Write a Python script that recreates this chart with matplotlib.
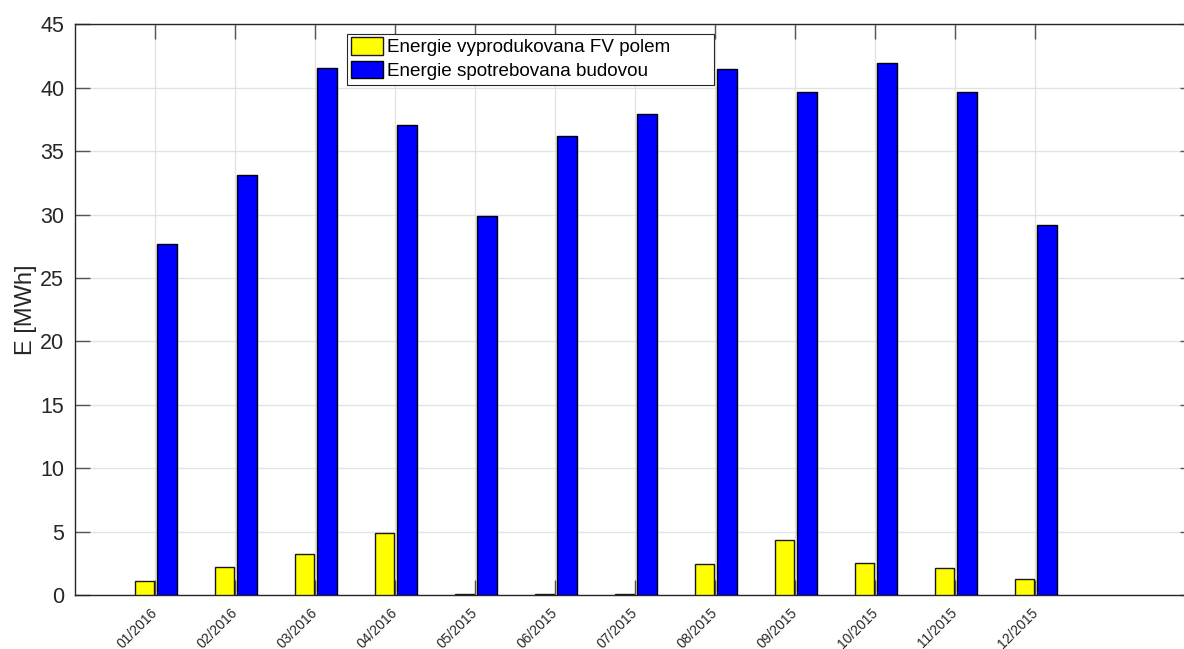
import matplotlib
matplotlib.use("Agg")
import matplotlib.pyplot as plt
from matplotlib.patches import Rectangle
from matplotlib.transforms import ScaledTranslation
import numpy as np

months = ["01/2016", "02/2016", "03/2016", "04/2016", "05/2015", "06/2015",
          "07/2015", "08/2015", "09/2015", "10/2015", "11/2015", "12/2015"]
produced = [1.1, 2.18, 3.2, 4.86, 0.05, 0.05, 0.05, 2.42, 4.36, 2.52, 2.1, 1.28]
consumed = [27.65, 33.15, 41.55, 37.03, 29.9, 36.2, 37.95, 41.45, 39.65, 41.95, 39.65, 29.15]

label_produced = "Energie vyprodukovana FV polem"
label_consumed = "Energie spotrebovana budovou"

plt.rcParams["font.family"] = ["Liberation Sans", "DejaVu Sans"]
axis_color = "#262626"

W, H = 1184, 649
fig = plt.figure(figsize=(W / 100, H / 100), dpi=100)
left, top, bottom = 75.3, 24.3, 595.0
x_max = 14.0
px_per_unit = 80.0
ax = fig.add_axes([left / W, 1 - bottom / H, x_max * px_per_unit / W, (bottom - top) / H])

x = np.arange(1, len(months) + 1)
width = 0.24
ax.bar(x - 0.14, produced, width, color="#ffff00", edgecolor="#1a1a1a", linewidth=1.0,
       label=label_produced, zorder=3)
ax.bar(x + 0.145, consumed, width, color="#0000ff", edgecolor="black", linewidth=1.0,
       label=label_consumed, zorder=3)

ax.set_xlim(0, x_max)
ax.set_ylim(0, 45)
ax.set_yticks(np.arange(0, 46, 5))
ax.set_xticks(x)
ax.set_xticklabels(months, rotation=45, ha="right", va="center", rotation_mode="anchor",
                   fontsize=10, color=axis_color)
shift = ScaledTranslation(-9 / 100, 0, fig.dpi_scale_trans)
for lbl in ax.get_xticklabels():
    lbl.set_transform(lbl.get_transform() + shift)

ax.grid(True, color="#e3e3e3", linewidth=1.0, zorder=0)
ax.set_axisbelow(True)
ax.tick_params(axis="both", direction="in", length=11, width=1.0, color="#555555",
               top=True, right=True)
ax.tick_params(axis="y", labelsize=15.5, labelcolor=axis_color, pad=8)
ax.tick_params(axis="x", pad=11)
for side in ("top", "bottom", "left", "right"):
    ax.spines[side].set_color(axis_color)
    ax.spines[side].set_linewidth(1.0)

ax.set_ylabel("E [MWh]", fontsize=17, color=axis_color, labelpad=2)

# Legend box with a wider frame than matplotlib's own
frame_x0, frame_y0, frame_x1, frame_y1 = 347, 34, 714, 85
ax.add_patch(Rectangle((frame_x0 / W, 1 - frame_y1 / H),
                       (frame_x1 - frame_x0) / W, (frame_y1 - frame_y0) / H,
                       transform=fig.transFigure, facecolor="white",
                       edgecolor="#262626", linewidth=0.8, zorder=5, clip_on=False))
leg = ax.legend(loc="upper left", bbox_to_anchor=(351 / W, 1 - 37 / H),
                bbox_transform=fig.transFigure,
                fontsize=13.6, frameon=False,
                handlelength=1.7, handleheight=1.05, handletextpad=0.22,
                borderpad=0.0, labelspacing=0.25, borderaxespad=0.0)
leg.set_zorder(6)

fig.savefig("out.png", dpi=100)
